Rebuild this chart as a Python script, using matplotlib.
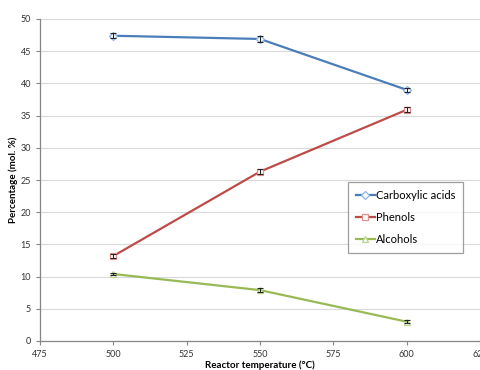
import matplotlib
matplotlib.use("Agg")
import matplotlib.pyplot as plt

TEMPS = [500, 550, 600]
CARBOXYLIC = [47.4, 46.9, 39.0]
PHENOLS = [13.2, 26.3, 35.9]
ALCOHOLS = [10.4, 7.9, 3.0]
CARBOXYLIC_ERR = [0.4, 0.4, 0.3]
PHENOLS_ERR = [0.3, 0.4, 0.4]
ALCOHOLS_ERR = [0.2, 0.3, 0.2]

SERIES = [
    ("Carboxylic acids", CARBOXYLIC, CARBOXYLIC_ERR, "#4A7EBB", "#8EB4E3", "D"),
    ("Phenols", PHENOLS, PHENOLS_ERR, "#BE4B48", "#E6908E", "s"),
    ("Alcohols", ALCOHOLS, ALCOHOLS_ERR, "#98B954", "#B9D38D", "^"),
]

plt.rcParams["font.family"] = ["Lato", "DejaVu Sans"]

fig = plt.figure(figsize=(4.81, 3.70), dpi=100)
fig.patch.set_facecolor("white")
ax = fig.add_axes([40 / 481, 29 / 370, 440 / 481, 322 / 370])

for label, vals, errs, color, mcolor, marker in SERIES:
    ax.errorbar(TEMPS, vals, yerr=errs, fmt="none", ecolor="#222222",
                elinewidth=0.8, capsize=2, capthick=0.8, zorder=4)
    ax.plot(TEMPS, vals, color=color, lw=1.6, marker=marker,
            markersize=5 if marker != "D" else 4, markerfacecolor="white",
            markeredgecolor=mcolor, markeredgewidth=0.9, label=label, zorder=3)

ax.set_xlim(475, 625)
ax.set_ylim(0, 50)
ax.set_xticks([475, 500, 525, 550, 575, 600, 625])
ax.set_yticks(range(0, 51, 5))
ax.grid(axis="y", color="#D9D9D9", lw=0.8)
ax.set_axisbelow(True)
for side in ["top", "right"]:
    ax.spines[side].set_visible(False)
for side in ["left", "bottom"]:
    ax.spines[side].set_color("#868686")
    ax.spines[side].set_linewidth(0.9)
ax.tick_params(direction="out", length=3, width=0.8, color="#868686",
               labelsize=6.5, labelcolor="#333333")

ax.set_xlabel("Reactor temperature (\u00b0C)", fontsize=7, fontweight="bold",
              labelpad=1)
ax.set_ylabel("Percentage (mol. %)", fontsize=7, fontweight="bold", labelpad=2)

leg = ax.legend(loc="upper left", bbox_to_anchor=(308 / 440, 1 - (182 - 19) / 322),
                frameon=True, fancybox=False, fontsize=8, handlelength=1.7,
                handletextpad=0.1, borderpad=0.7, labelspacing=1.0,
                borderaxespad=0)
leg.get_frame().set_edgecolor("#868686")
leg.get_frame().set_linewidth(0.9)

fig.savefig("out.png", dpi=100)
